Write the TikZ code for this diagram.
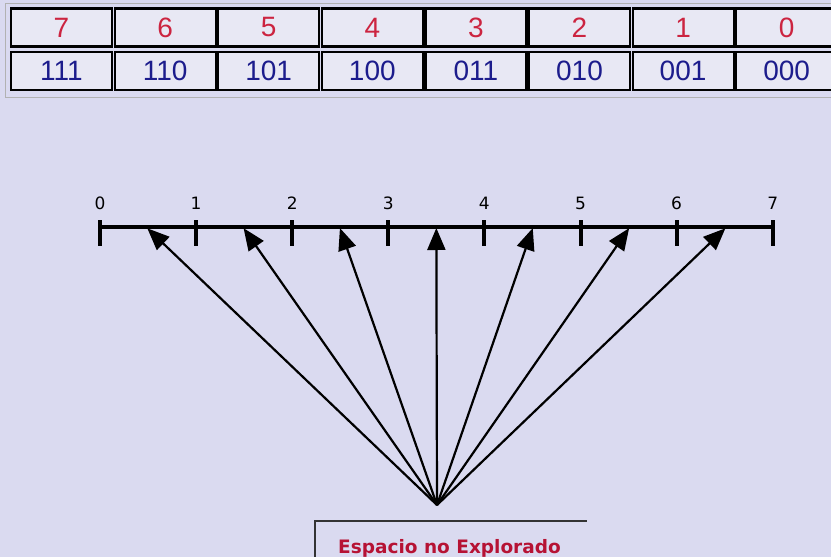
\documentclass[tikz,border=0pt]{standalone}
\usepackage{fontspec}
\setmainfont{Liberation Sans}
\newfontfamily\verdfont{DejaVu Sans}
\usetikzlibrary{arrows.meta}
\definecolor{pagebg}{RGB}{218,218,240}
\definecolor{cellfill}{RGB}{232,232,244}
\definecolor{digred}{RGB}{204,36,64}
\definecolor{binblue}{RGB}{28,28,140}
\definecolor{boxred}{RGB}{182,18,52}
\tikzset{
  cellbox/.style={draw=black, line width=2.2pt, fill=cellfill, minimum width=101pt,
    minimum height=38pt, inner sep=0pt, font=\fontsize{28}{28}\selectfont},
  ticklabel/.style={font=\verdfont\fontsize{17}{17}\selectfont, inner sep=0pt},
  fanarrow/.style={-{Triangle[length=22pt,width=18pt]}, line width=2.2pt, shorten >=-1pt}
}
\begin{document}
\begin{tikzpicture}[x=1pt, y=-1pt]
    \useasboundingbox[fill=pagebg] (0,0) rectangle (831,557);
    \clip (0,0) rectangle (831,557);

    % Top table: decimal value over its binary code
    \draw[gray!60, line width=1pt] (5,3) rectangle (845,97);
    \foreach \k/\d/\b in {0/7/111, 1/6/110, 2/5/101, 3/4/100, 4/3/011, 5/2/010, 6/1/001, 7/0/000} {
        \node[cellbox, text=digred] (d\d) at ({61.5+103.6*\k}, 27.5) {\d};
        \node[cellbox, text=binblue] (b\d) at ({61.5+103.6*\k}, 71) {\b};
    }

    % Number line with ticks
    \draw[line width=4pt] (100,227) -- (773,227);
    \foreach \i in {0,...,7} {
        \coordinate (t\i) at ({100+96.1*\i}, 227);
        \draw[line width=4pt] ([yshift=7pt]t\i) -- ([yshift=-19pt]t\i);
        \node[ticklabel] (l\i) at ([yshift=24pt]t\i) {\i};
    }

    % Fan of arrows from the unexplored space
    \coordinate (apex) at (437,505);
    \foreach \i in {1,...,7} {
        \coordinate (m\i) at ({100+96.1*\i-48.05}, 229);
        \draw[fanarrow] (apex) -- (m\i);
    }

    % Label box, cut by the lower edge
    \draw[black!80, line width=1.6pt] (315,560) |- (587,521);
    \node[anchor=base, text=boxred, font=\verdfont\bfseries\fontsize{18.5}{18.5}\selectfont, inner sep=0pt]
        (espacio) at (449.5,553) {Espacio no Explorado};
\end{tikzpicture}
\end{document}
